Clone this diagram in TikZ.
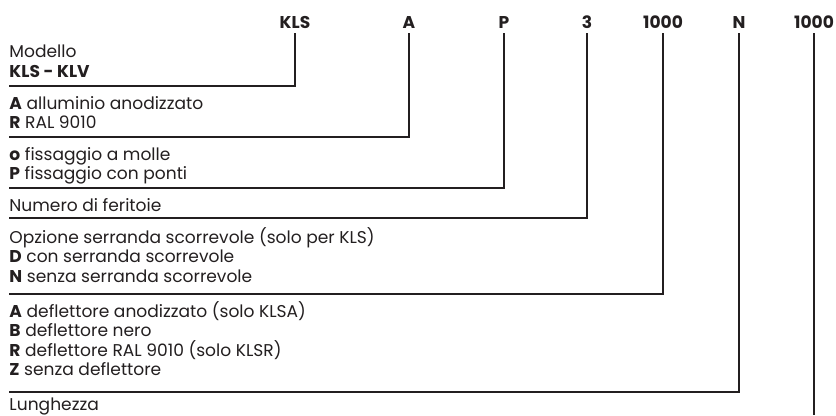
\documentclass[tikz,border=0pt]{standalone}
\usepackage{fontspec}
\setmainfont{Poppins}
\usetikzlibrary{positioning}
\definecolor{ink}{HTML}{231F20}

\begin{document}
\begin{tikzpicture}[x=0.75pt, y=-0.75pt, color=ink, line width=1.5pt,
    code/.style={font=\fontsize{12.8}{14.6}\selectfont\bfseries, inner sep=0pt, outer sep=3.75pt, anchor=base},
    field/.style={font=\fontsize{12.8}{14.6}\selectfont, inner sep=0pt, anchor=base west}]
\useasboundingbox (0,0) rectangle (836,415);
% code letters
\node[code] (kls) at (295,28) {KLS};
\node[code] (fin) at (409,28) {A};
\node[code] (fix) at (504,28) {P};
\node[code] (num) at (587,28) {3};
\node[code] (opt) at (663,28) {1000};
\node[code] (dfl) at (739,28) {N};
\node[code] (len) at (814,28) {1000};
% descriptions
\node[field] (mod1) at (8.5,57) {Modello};
\node[field] (mod2) at (8.5,77) {\textbf{KLS - KLV}};
\node[field] (fin1) at (8.5,109) {\textbf{A} alluminio anodizzato};
\node[field] (fin2) at (8.5,128.5) {\textbf{R} RAL 9010};
\node[field] (fix1) at (8.5,160) {\textbf{o} fissaggio a molle};
\node[field] (fix2) at (8.5,179.5) {\textbf{P} fissaggio con ponti};
\node[field] (num1) at (8.5,211) {Numero di feritoie};
\node[field] (opt1) at (8.5,243) {Opzione serranda scorrevole (solo per KLS)};
\node[field] (opt2) at (8.5,262.5) {\textbf{D} con serranda scorrevole};
\node[field] (opt3) at (8.5,282) {\textbf{N} senza serranda scorrevole};
\node[field] (dfl1) at (8.5,317) {\textbf{A} deflettore anodizzato (solo KLSA)};
\node[field] (dfl2) at (8.5,336.5) {\textbf{B} deflettore nero};
\node[field] (dfl3) at (8.5,356) {\textbf{R} deflettore RAL 9010 (solo KLSR)};
\node[field] (dfl4) at (8.5,375.5) {\textbf{Z} senza deflettore};
\node[field] (len1) at (8.5,410) {Lunghezza};
% line ends
\coordinate (e1) at (8.5,86);
\coordinate (e2) at (8.5,137);
\coordinate (e3) at (8.5,188);
\coordinate (e4) at (8.5,218);
\coordinate (e5) at (8.5,294);
\coordinate (e6) at (8.5,392);
\coordinate (e7) at (814,415);
\draw (kls.south) |- (e1);
\draw (fin.south) |- (e2);
\draw (fix.south) |- (e3);
\draw (num.south) |- (e4);
\draw (opt.south) |- (e5);
\draw (dfl.south) |- (e6);
\draw (len.south) -- (e7);
\end{tikzpicture}
\end{document}
